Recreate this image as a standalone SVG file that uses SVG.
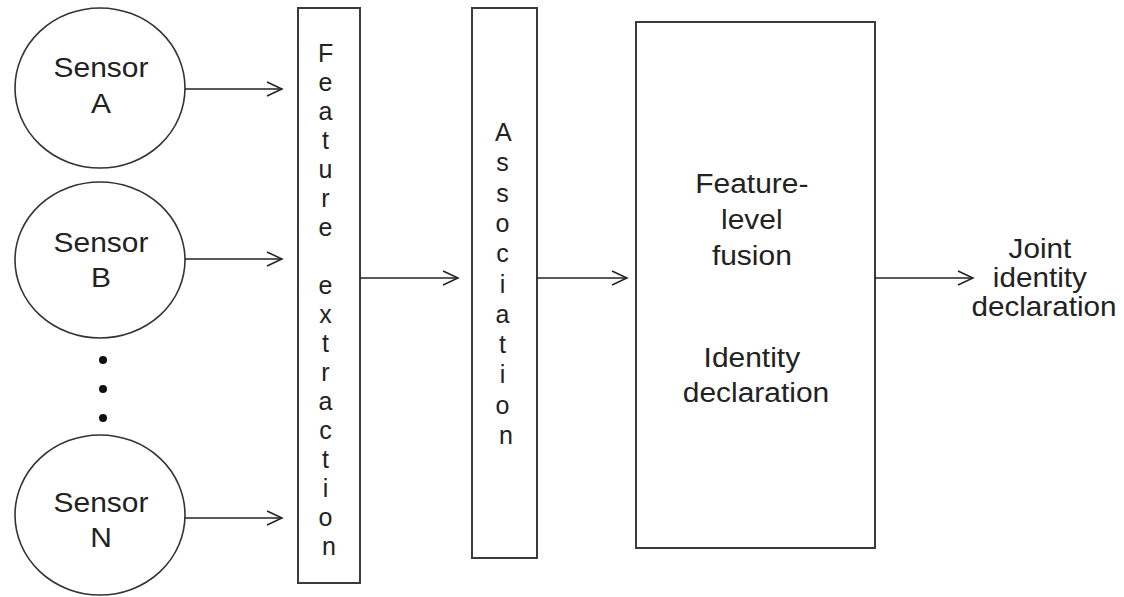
<svg xmlns="http://www.w3.org/2000/svg" width="1124" height="597" viewBox="0 0 1124 597">
  <defs>
    <style>
      .bg { fill: #ffffff; }
      .node { fill: #ffffff; stroke: #333333; stroke-width: 1.6; }
      .box { fill: #ffffff; stroke: #3a3a3a; stroke-width: 2; }
      .link { fill: none; stroke: #222222; stroke-width: 1.6; }
      .head { fill: none; stroke: #222222; stroke-width: 1.5; stroke-linejoin: miter; }
      .lbl { font-family: "Liberation Sans", Arial, sans-serif; font-size: 28px; fill: #222222; text-anchor: middle; }
      .vlbl { font-family: "Liberation Sans", Arial, sans-serif; font-size: 25px; fill: #222222; text-anchor: middle; }
      .dot { fill: #111111; }
    </style>
  </defs>

  <rect class="bg" x="0" y="0" width="1124" height="597"/>

  <!-- sensors -->
  <g id="sensor-a">
    <ellipse class="node" cx="100" cy="88" rx="85" ry="80"/>
    <g transform="translate(101 0) scale(1.07 1)">
      <text class="lbl"><tspan x="0" y="77">Sensor</tspan><tspan x="0" y="113">A</tspan></text>
    </g>
  </g>

  <g id="sensor-b">
    <ellipse class="node" cx="100" cy="260" rx="85" ry="78"/>
    <g transform="translate(101 0) scale(1.07 1)">
      <text class="lbl"><tspan x="0" y="252">Sensor</tspan><tspan x="0" y="287">B</tspan></text>
    </g>
  </g>

  <g id="sensor-ellipsis">
    <circle class="dot" cx="103" cy="360" r="4"/>
    <circle class="dot" cx="103" cy="389" r="4"/>
    <circle class="dot" cx="103" cy="418" r="4"/>
  </g>

  <g id="sensor-n">
    <ellipse class="node" cx="100" cy="515" rx="85" ry="80"/>
    <g transform="translate(101 0) scale(1.07 1)">
      <text class="lbl"><tspan x="0" y="512">Sensor</tspan><tspan x="0" y="547">N</tspan></text>
    </g>
  </g>

  <!-- processing stages -->
  <g id="feature-extraction">
    <rect class="box" x="298" y="8" width="62" height="575"/>
    <text class="vlbl">
      <tspan x="329" y="62">F</tspan>
      <tspan x="329" dy="29">e</tspan>
      <tspan x="329" dy="29">a</tspan>
      <tspan x="329" dy="29">t</tspan>
      <tspan x="329" dy="29">u</tspan>
      <tspan x="329" dy="29">r</tspan>
      <tspan x="329" dy="29">e</tspan>
      <tspan x="329" dy="58">e</tspan>
      <tspan x="329" dy="29">x</tspan>
      <tspan x="329" dy="29">t</tspan>
      <tspan x="329" dy="29">r</tspan>
      <tspan x="329" dy="29">a</tspan>
      <tspan x="329" dy="29">c</tspan>
      <tspan x="329" dy="29">t</tspan>
      <tspan x="329" dy="29">i</tspan>
      <tspan x="329" dy="29">o</tspan>
      <tspan x="329" dy="29">n</tspan>
    </text>
  </g>

  <g id="association">
    <rect class="box" x="472" y="8" width="65" height="550"/>
    <text class="vlbl">
      <tspan x="506" y="141">A</tspan>
      <tspan x="506" dy="30.3">s</tspan>
      <tspan x="506" dy="30.3">s</tspan>
      <tspan x="506" dy="30.3">o</tspan>
      <tspan x="506" dy="30.3">c</tspan>
      <tspan x="506" dy="30.3">i</tspan>
      <tspan x="506" dy="30.3">a</tspan>
      <tspan x="506" dy="30.3">t</tspan>
      <tspan x="506" dy="30.3">i</tspan>
      <tspan x="506" dy="30.3">o</tspan>
      <tspan x="506" dy="30.3">n</tspan>
    </text>
  </g>

  <g id="fusion">
    <rect class="box" x="636" y="22" width="239" height="526"/>
    <g transform="translate(756 0) scale(1.07 1)">
      <text class="lbl">
        <tspan x="0" y="193">Feature-</tspan>
        <tspan x="0" y="229">level</tspan>
        <tspan x="0" y="265">fusion</tspan>
        <tspan x="0" y="367">Identity</tspan>
        <tspan x="0" y="402">declaration</tspan>
      </text>
    </g>
  </g>

  <g id="joint-declaration">
    <g transform="translate(1044 0) scale(1.06 1)">
      <text class="lbl">
        <tspan x="0" y="258">Joint</tspan>
        <tspan x="0" y="287">identity</tspan>
        <tspan x="0" y="316">declaration</tspan>
      </text>
    </g>
  </g>

  <!-- connectors: straight shafts with open V heads -->
  <g id="connectors">
    <line class="link" x1="185" y1="89" x2="282" y2="89"/>
    <polyline class="head" points="267,82 282,89 267,96"/>

    <line class="link" x1="185" y1="259" x2="282" y2="259"/>
    <polyline class="head" points="267,252 282,259 267,266"/>

    <line class="link" x1="185" y1="518" x2="282" y2="518"/>
    <polyline class="head" points="267,511 282,518 267,525"/>

    <line class="link" x1="360" y1="278" x2="458" y2="278"/>
    <polyline class="head" points="443,271 458,278 443,285"/>

    <line class="link" x1="537" y1="278" x2="627" y2="278"/>
    <polyline class="head" points="612,271 627,278 612,285"/>

    <line class="link" x1="875" y1="278" x2="973" y2="278"/>
    <polyline class="head" points="958,271 973,278 958,285"/>
  </g>
</svg>
